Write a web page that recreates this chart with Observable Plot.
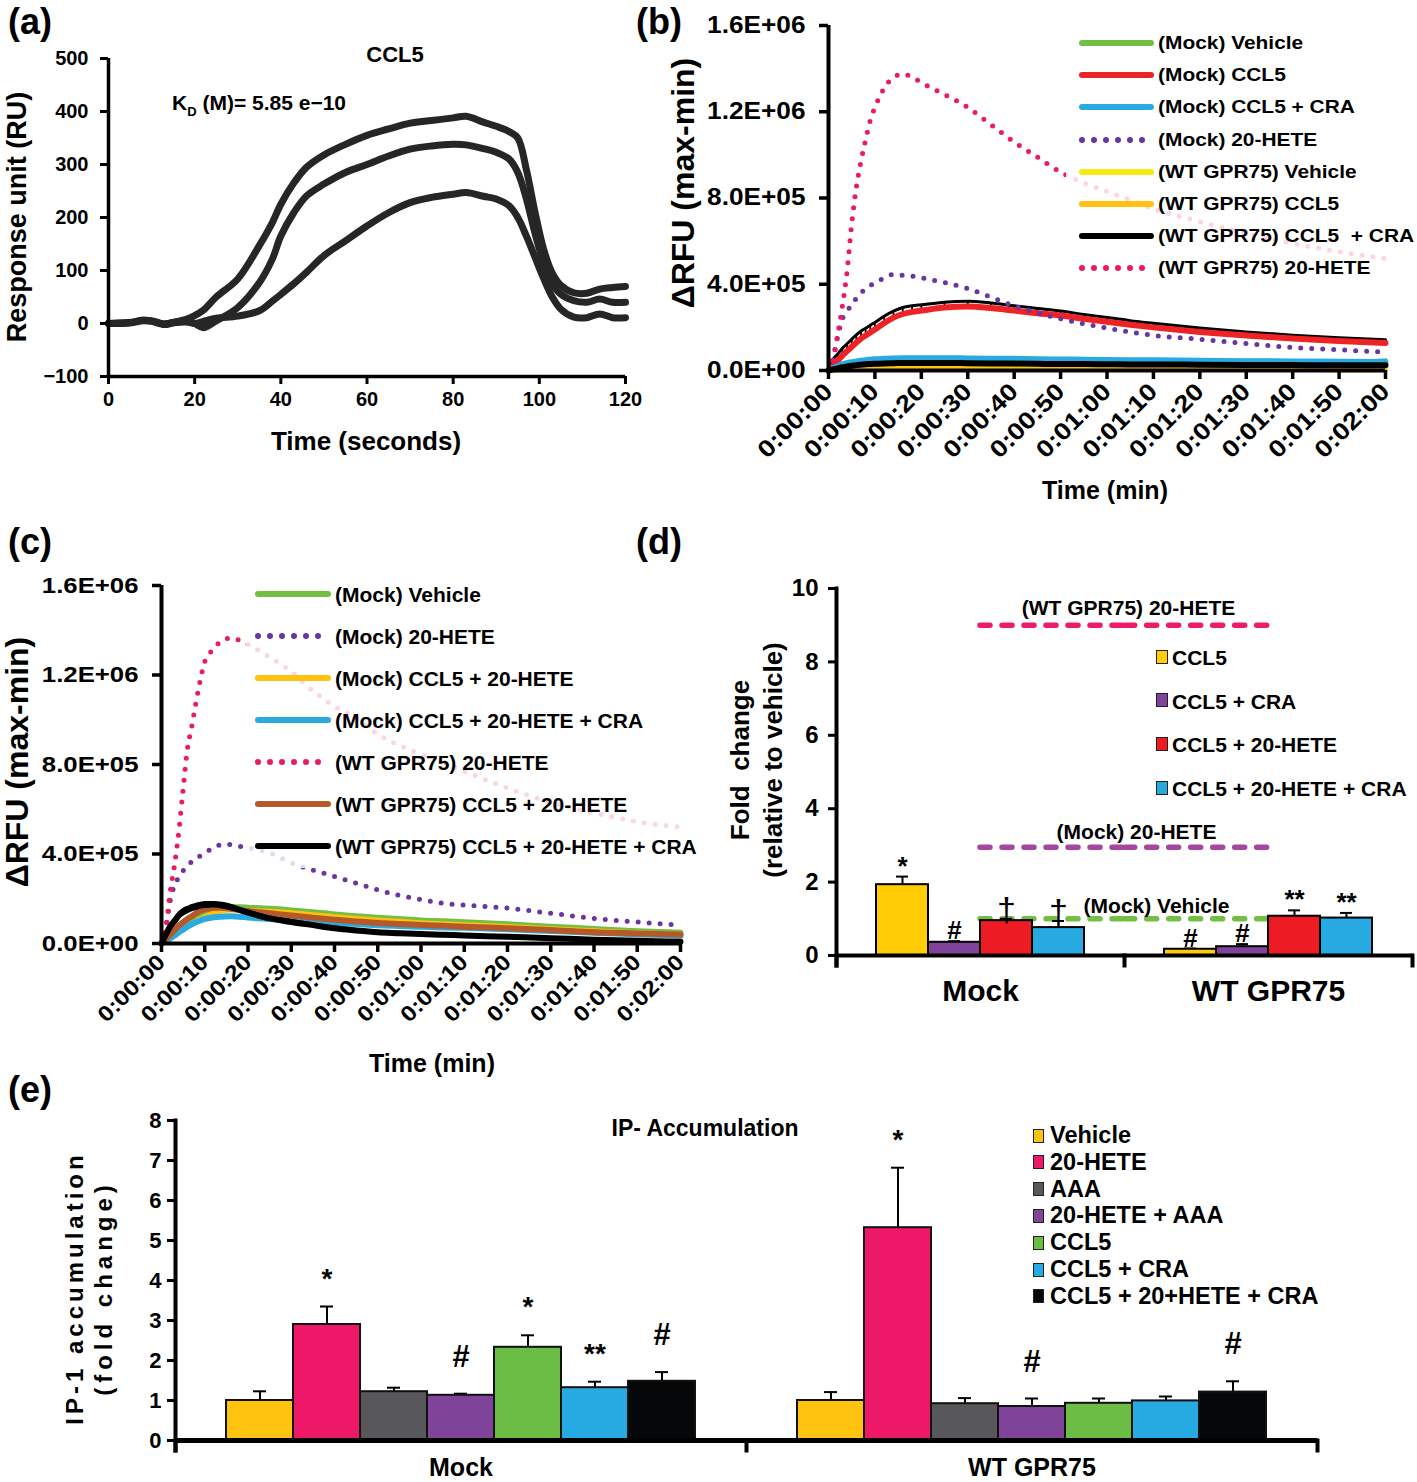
<!DOCTYPE html>
<html><head><meta charset="utf-8">
<script src="https://cdn.jsdelivr.net/npm/d3@7"></script>
<script src="https://cdn.jsdelivr.net/npm/@observablehq/plot@0.6"></script>
<style>
body{margin:0;background:#fff;}
#fig{position:relative;width:1417px;height:1482px;overflow:hidden;font-family:"Liberation Sans",Arial,Helvetica,sans-serif;font-weight:bold;color:#000;background:#fff;}
.panel{position:absolute;}
.lbl{position:absolute;white-space:pre;line-height:1;}
.box{position:absolute;background:rgba(255,255,255,0.82);}
</style></head><body><div id="fig"></div>
<script>
// ---------------- DATA ----------------
// (a) SPR sensorgram, CCL5
const timeA = [0,5,8,10,13,15,18,20,22,25,30,35,38,40,43,46,50,55,60,65,70,75,80,83,87,90,93,95,97,99,101,103,105,108,111,114,117,120];
const sprHigh = [0,2,6,5,-1,2,8,15,25,50,84,147,190,225,265,295,318,338,355,367,378,383,388,391,380,372,362,350,290,210,140,95,72,58,57,65,68,70];
const sprMid  = [0,2,6,5,-1,2,5,0,-8,5,30,77,121,165,209,241,263,285,300,316,329,335,338,337,330,323,310,285,235,170,115,75,55,43,40,46,40,40];
const sprLow  = [0,1,5,4,-2,1,3,0,4,10,14,24,42,55,75,97,128,156,184,209,228,238,244,247,240,235,222,200,165,125,85,50,27,12,11,18,11,11];
const ticksAx = [0,20,40,60,80,100,120];
const ticksAy = [-100,0,100,200,300,400,500];

// (b) calcium flux, values in units of 1E+05
const timeB = [0,1,2,3,4,5,6,7,8,9,10,12,14,16,18,20,25,30,35,40,45,50,55,60,65,70,80,90,100,110,120];
const seriesB = ["(Mock) Vehicle","(Mock) CCL5","(Mock) CCL5 + CRA","(Mock) 20-HETE","(WT GPR75) Vehicle","(WT GPR75) CCL5","(WT GPR75) CCL5  + CRA","(WT GPR75) 20-HETE"];
const mockVehicleB = [0,0.05,0.1,0.14,0.17,0.2,0.22,0.23,0.24,0.25,0.26,0.27,0.28,0.28,0.28,0.28,0.28,0.28,0.28,0.28,0.28,0.28,0.28,0.28,0.28,0.28,0.28,0.29,0.3,0.33,0.45];
const mockCCL5B = [0,0.22,0.45,0.7,0.9,1.1,1.3,1.48,1.62,1.76,1.9,2.2,2.45,2.62,2.72,2.78,2.92,2.97,2.9,2.78,2.66,2.55,2.4,2.26,2.12,2.0,1.79,1.62,1.48,1.37,1.28];
const mockCCL5ErrB = [0,0.3,0.32,0.33,0.34,0.35,0.35,0.35,0.34,0.34,0.33,0.32,0.3,0.3,0.28,0.27,0.25,0.24,0.23,0.22,0.22,0.21,0.2,0.2,0.19,0.19,0.18,0.17,0.16,0.15,0.15];
const mockCCL5CRAB = [0,0.1,0.2,0.28,0.34,0.38,0.42,0.45,0.48,0.5,0.52,0.54,0.56,0.57,0.57,0.57,0.57,0.56,0.55,0.54,0.52,0.51,0.5,0.49,0.48,0.47,0.45,0.43,0.42,0.41,0.4];
const mock20HETEB = [0,0.6,1.6,2.4,2.75,3.05,3.35,3.6,3.8,3.95,4.05,4.3,4.45,4.42,4.38,4.3,4.08,3.8,3.4,3.0,2.68,2.4,2.17,1.97,1.78,1.63,1.45,1.25,1.07,0.96,0.85];
const wtVehicleB = [0,0.01,0.02,0.03,0.05,0.06,0.07,0.08,0.08,0.09,0.09,0.1,0.1,0.1,0.1,0.1,0.1,0.1,0.09,0.09,0.09,0.08,0.08,0.08,0.07,0.07,0.06,0.05,0.05,0.04,0.03];
const wtCCL5B = [0,0.02,0.04,0.06,0.08,0.1,0.11,0.12,0.13,0.13,0.14,0.14,0.15,0.15,0.15,0.15,0.14,0.14,0.13,0.13,0.12,0.12,0.11,0.11,0.1,0.1,0.09,0.08,0.07,0.06,0.05];
const wtCCL5CRAB = [0,0.05,0.1,0.15,0.19,0.22,0.25,0.27,0.29,0.3,0.31,0.33,0.34,0.35,0.35,0.35,0.35,0.34,0.33,0.32,0.31,0.3,0.3,0.29,0.28,0.28,0.27,0.26,0.25,0.24,0.24];
const wt20HETEB = [0,0.5,1.7,3.0,4.6,6.8,8.5,9.7,10.7,11.6,12.2,13.1,13.6,13.75,13.6,13.35,12.8,12.2,11.4,10.6,9.9,9.2,8.7,8.3,7.9,7.5,6.9,6.35,5.9,5.5,5.2];

// (c) values in units of 1E+05
const timeC = [0,1,2,3,4,5,6,7,8,9,10,12,14,16,18,20,25,30,35,40,45,50,55,60,65,70,80,90,100,110,120];
const seriesC = ["(Mock) Vehicle","(Mock) 20-HETE","(Mock) CCL5 + 20-HETE","(Mock) CCL5 + 20-HETE + CRA","(WT GPR75) 20-HETE","(WT GPR75) CCL5 + 20-HETE","(WT GPR75) CCL5 + 20-HETE + CRA"];
const mockVehicleC = [0,0.15,0.3,0.45,0.6,0.75,0.9,1.05,1.18,1.3,1.4,1.53,1.6,1.62,1.62,1.6,1.55,1.48,1.4,1.3,1.22,1.15,1.09,1.03,0.99,0.95,0.86,0.75,0.65,0.55,0.48];
const mock20HETEC = [0,0.7,1.9,2.6,2.95,3.25,3.5,3.65,3.8,3.92,4.05,4.28,4.42,4.42,4.35,4.28,4.05,3.6,3.28,3.0,2.7,2.4,2.15,1.97,1.8,1.72,1.58,1.35,1.12,0.96,0.82];
const mockCCL5HETEC = [0,0.12,0.25,0.38,0.5,0.62,0.74,0.86,0.98,1.1,1.2,1.35,1.45,1.5,1.5,1.48,1.44,1.38,1.28,1.2,1.12,1.05,0.99,0.93,0.88,0.84,0.76,0.66,0.57,0.48,0.42];
const mockCCL5HETECRAC = [0,0.1,0.22,0.35,0.5,0.62,0.75,0.86,0.95,1.03,1.1,1.17,1.2,1.22,1.2,1.16,1.1,1.04,0.98,0.92,0.87,0.82,0.78,0.75,0.72,0.7,0.64,0.56,0.48,0.41,0.35];
const wt20HETEC = [0,0.7,2.3,3.5,5.0,6.9,8.7,9.7,10.8,11.8,12.6,13.15,13.55,13.65,13.55,13.36,12.8,12.15,11.3,10.6,10.05,9.35,8.85,8.45,8.1,7.7,6.95,6.3,5.84,5.45,5.2];
const wtCCL5HETEC = [0,0.2,0.4,0.6,0.8,0.95,1.1,1.22,1.35,1.45,1.52,1.6,1.6,1.55,1.5,1.45,1.35,1.25,1.15,1.06,0.98,0.92,0.87,0.83,0.79,0.75,0.68,0.6,0.5,0.45,0.4];
const wtCCL5HETECRAC = [0,0.4,0.75,1.0,1.25,1.4,1.5,1.58,1.64,1.69,1.72,1.74,1.7,1.62,1.5,1.38,1.12,0.96,0.82,0.68,0.58,0.5,0.46,0.42,0.39,0.36,0.3,0.24,0.17,0.12,0.08];
const wtCCL5HETECRAErrC = [0,0.15,0.15,0.15,0.15,0.15,0.14,0.14,0.14,0.13,0.13,0.12,0.12,0.11,0.1,0.1,0.09,0.09,0.08,0.08,0.07,0.07,0.07,0.06,0.06,0.06,0.05,0.05,0.05,0.05,0.05];
const ticksTime = [0,10,20,30,40,50,60,70,80,90,100,110,120];
const ticksRFU = [0,4e5,8e5,1.2e6,1.6e6];

// (d) fold change relative to vehicle
const groupsD = ["Mock","WT GPR75"];
const treatD = ["CCL5","CCL5 + CRA","CCL5 + 20-HETE","CCL5 + 20-HETE + CRA"];
const mockD = [1.93,0.36,0.95,0.76];
const mockErrD = [0.22,0.03,0.05,0.18];
const mockNoteD = ["*","#","\u2020","\u2020"];
const wtD = [0.17,0.24,1.07,1.02];
const wtErrD = [0.02,0.07,0.16,0.14];
const wtNoteD = ["#","#","**","**"];
const refLabelsD = ["(WT GPR75) 20-HETE","(Mock) 20-HETE","(Mock) Vehicle"];
const refValuesD = [9.0,2.95,1.0];
const ticksD = [0,2,4,6,8,10];

// (e) IP-1 accumulation
const groupsE = ["Mock","WT GPR75"];
const treatE = ["Vehicle","20-HETE","AAA","20-HETE + AAA","CCL5","CCL5 + CRA","CCL5 + 20+HETE + CRA"];
const mockE = [1.0,2.9,1.22,1.13,2.33,1.32,1.48];
const mockErrE = [0.23,0.45,0.1,0.04,0.3,0.15,0.23];
const mockNoteE = ["","*","","#","*","**","#"];
const wtE = [1.0,5.32,0.92,0.85,0.93,0.99,1.21];
const wtErrE = [0.21,1.5,0.14,0.2,0.12,0.11,0.27];
const wtNoteE = ["","*","","#","","","#"];
const ticksE = [0,1,2,3,4,5,6,7,8];

// ---------------- STYLE ----------------
const FONT = '"Liberation Sans", Arial, Helvetica, sans-serif';
const C = {green:"#72bf44", red:"#ee2326", blue:"#29abe2", purple:"#6a35a0", yellow:"#f6ea16", orange:"#ffc20e", black:"#000000", pink:"#ec1a64", brown:"#b5592a"};
const colorsD = ["#ffcc05","#80439a","#ed1c24","#27aae1"];
const refColorsD = ["#ec1c6a","#a5479f","#72bf44"];
const colorsE = ["#ffc20e","#ed1968","#58585a","#80439a","#6cbd45","#27aae1","#050708"];
const baseStyle = {fontFamily: FONT, fontWeight: "bold", color: "black", background: "transparent", overflow: "visible", maxWidth: "none"};

const fig = document.getElementById("fig");
function addPlot(svg, left, top, k = 1) {
  const div = document.createElement("div");
  div.className = "panel"; div.style.left = left + "px"; div.style.top = top + "px";
  div.appendChild(svg); fig.appendChild(div);
  if (k !== 1) stretchText(svg, k);
}
function stretchText(svg, k) {
  svg.querySelectorAll("text").forEach(t => {
    const num = /^-?[\d.]+$/;
    const xa = t.getAttribute("x"), ya = t.getAttribute("y");
    let x = 0, y = 0;
    if (xa && num.test(xa)) { x = +xa; t.removeAttribute("x"); }
    if (ya && num.test(ya)) { y = +ya; t.removeAttribute("y"); }
    const tr = t.getAttribute("transform") || "";
    t.setAttribute("transform", `${tr} translate(${x},${y}) scale(${k},1)`);
  });
}
function txt(s, x, y, o = {}) {
  const {size = 20, anchor = "middle", rotate = false, k = 1, html = false, spacing = 0} = o;
  const el = document.createElement("div"); el.className = "lbl";
  if (html) el.innerHTML = s; else el.textContent = s;
  el.style.left = x + "px"; el.style.top = y + "px"; el.style.fontSize = size + "px";
  if (spacing) el.style.letterSpacing = spacing + "px";
  if (rotate) el.style.transform = `translate(-50%,-50%) rotate(-90deg) scaleY(${k})`;
  else if (anchor === "start") { el.style.transformOrigin = "left center"; el.style.transform = `translate(0,-50%) scaleX(${k})`; }
  else el.style.transform = `translate(-50%,-50%) scaleX(${k})`;
  fig.appendChild(el);
  return el;
}
function box(x, y, w, h) {
  const b = document.createElement("div"); b.className = "box";
  Object.assign(b.style, {left: x + "px", top: y + "px", width: w + "px", height: h + "px"});
  fig.appendChild(b);
}
function lineSwatch(x, y, w, color, dotted) {
  const ns = "http://www.w3.org/2000/svg";
  const s = document.createElementNS(ns, "svg");
  s.setAttribute("width", w); s.setAttribute("height", 10);
  Object.assign(s.style, {position: "absolute", left: x + "px", top: (y - 5) + "px", overflow: "visible"});
  const l = document.createElementNS(ns, "line");
  l.setAttribute("x1", 3); l.setAttribute("x2", w - 3); l.setAttribute("y1", 5); l.setAttribute("y2", 5);
  l.setAttribute("stroke", color); l.setAttribute("stroke-width", 6); l.setAttribute("stroke-linecap", "round");
  if (dotted) l.setAttribute("stroke-dasharray", "0 12");
  s.appendChild(l); fig.appendChild(s);
}
function squareSwatch(x, y, w, h, color) {
  const d = document.createElement("div");
  Object.assign(d.style, {position: "absolute", left: x + "px", top: (y - h / 2) + "px", width: (w - 3) + "px", height: (h - 3) + "px", background: color, border: "1.5px solid #222"});
  fig.appendChild(d);
}
const fmtE = d => { const [m, e] = d.toExponential(1).split("e"); const n = +e; return `${m}E${n < 0 ? "-" : "+"}${String(Math.abs(n)).padStart(2, "0")}`; };
const fmtT = d => `0:${String(Math.floor(d / 60)).padStart(2, "0")}:${String(d % 60).padStart(2, "0")}`;
const rowsOf = (times, vals, errs) => times.map((t, i) => ({t, v: vals[i] * 1e5, e: errs ? errs[i] * 1e5 : 0}));
const dotted = {strokeDasharray: "0 11", strokeLinecap: "round", strokeWidth: 5};

// ---------------- (a) ----------------
{
  const rows = [sprHigh, sprMid, sprLow].flatMap((arr, s) => timeA.map((t, i) => ({t, v: arr[i], s})));
  const p = Plot.plot({
    width: 650, height: 470, marginLeft: 108, marginRight: 25, marginTop: 58, marginBottom: 94,
    style: baseStyle,
    x: {domain: [0, 120]}, y: {domain: [-100, 500]},
    marks: [
      Plot.line(rows, {x: "t", y: "v", z: "s", stroke: "#262626", strokeWidth: 7, curve: "catmull-rom"}),
      Plot.ruleX([0], {strokeWidth: 3.5}),
      Plot.ruleY([-100], {strokeWidth: 3.5}),
      Plot.axisY({ticks: ticksAy, tickSize: 8, tickPadding: 12, strokeWidth: 3, fontSize: 20, label: null}),
      Plot.axisX({ticks: ticksAx, tickSize: 8, tickPadding: 7, strokeWidth: 3, fontSize: 20, label: null})
    ]
  });
  addPlot(p, 0, 0);
  txt("CCL5", 395, 55, {size: 22});
  txt("K<sub style='font-size:0.62em'>D</sub> (M)= 5.85 e\u221210", 172, 105, {size: 21, anchor: "start", html: true});
  txt("Response unit (RU)", 17, 217, {size: 27, rotate: true});
  txt("Time (seconds)", 366, 441, {size: 26});
  txt("(a)", 8, 22, {size: 36, anchor: "start"});
}

// ---------------- (b) ----------------
{
  const S = seriesB;
  const vB = rowsOf(timeB, mockVehicleB), rB = rowsOf(timeB, mockCCL5B, mockCCL5ErrB), bB = rowsOf(timeB, mockCCL5CRAB),
        pB = rowsOf(timeB, mock20HETEB), yB = rowsOf(timeB, wtVehicleB), oB = rowsOf(timeB, wtCCL5B),
        kB = rowsOf(timeB, wtCCL5CRAB), hB = rowsOf(timeB, wt20HETEB);
  const cur = "monotone-x";
  const p = Plot.plot({
    width: 777, height: 510, marginLeft: 188, marginRight: 32, marginTop: 25, marginBottom: 140,
    style: baseStyle,
    x: {domain: [0, 120]}, y: {domain: [0, 1.6e6]},
    marks: [
      Plot.line(vB, {x: "t", y: "v", stroke: C.green, strokeWidth: 5, curve: cur}),
      Plot.ruleX(rB, {x: "t", y1: "v", y2: d => d.v + d.e, stroke: "black", strokeWidth: 1.8}),
      Plot.line(rB, {x: "t", y: d => d.v + d.e, stroke: "black", strokeWidth: 3, curve: cur}),
      Plot.line(rB, {x: "t", y: "v", stroke: C.red, strokeWidth: 6, curve: cur}),
      Plot.line(bB, {x: "t", y: "v", stroke: C.blue, strokeWidth: 6, curve: cur}),
      Plot.line(pB, {x: "t", y: "v", stroke: C.purple, curve: cur, ...dotted}),
      Plot.line(yB, {x: "t", y: "v", stroke: C.yellow, strokeWidth: 5, curve: cur}),
      Plot.line(oB, {x: "t", y: "v", stroke: C.orange, strokeWidth: 4, curve: cur}),
      Plot.line(kB, {x: "t", y: "v", stroke: C.black, strokeWidth: 6, curve: cur}),
      Plot.line(hB, {x: "t", y: "v", stroke: C.pink, curve: cur, ...dotted}),
      Plot.ruleX([0], {strokeWidth: 4}),
      Plot.ruleY([0], {strokeWidth: 4}),
      Plot.axisY({ticks: ticksRFU, tickFormat: fmtE, tickSize: 9, tickPadding: 14, strokeWidth: 3.5, fontSize: 23, label: null}),
      Plot.axisX({ticks: ticksTime, tickFormat: fmtT, tickRotate: -45, tickSize: 9, tickPadding: 8, strokeWidth: 3.5, fontSize: 24, label: null})
    ]
  });
  addPlot(p, 640, 0, 1.14);
  box(1066, 24, 351, 260);
  const colors = [C.green, C.red, C.blue, C.purple, C.yellow, C.orange, C.black, C.pink];
  const dots = [false, false, false, true, false, false, false, true];
  S.forEach((s, i) => {
    const y = 43 + i * 32.2;
    lineSwatch(1079, y, 75, colors[i], dots[i]);
    txt(s, 1158, y, {size: 18.5, anchor: "start", k: 1.13});
  });
  txt("\u0394RFU (max-min)", 683, 183, {size: 32, rotate: true});
  txt("Time (min)", 1105, 490, {size: 25});
  txt("(b)", 636, 22, {size: 36, anchor: "start"});
}

// ---------------- (c) ----------------
{
  const S = seriesC;
  const g = rowsOf(timeC, mockVehicleC), pu = rowsOf(timeC, mock20HETEC), o = rowsOf(timeC, mockCCL5HETEC),
        b = rowsOf(timeC, mockCCL5HETECRAC), pk = rowsOf(timeC, wt20HETEC), br = rowsOf(timeC, wtCCL5HETEC),
        k = rowsOf(timeC, wtCCL5HETECRAC, wtCCL5HETECRAErrC);
  const cur = "monotone-x";
  const p = Plot.plot({
    width: 720, height: 560, marginLeft: 161, marginRight: 40, marginTop: 65, marginBottom: 137,
    style: baseStyle,
    x: {domain: [0, 120]}, y: {domain: [0, 1.6e6]},
    marks: [
      Plot.line(g, {x: "t", y: "v", stroke: C.green, strokeWidth: 6, curve: cur}),
      Plot.line(pu, {x: "t", y: "v", stroke: C.purple, curve: cur, ...dotted}),
      Plot.line(o, {x: "t", y: "v", stroke: C.orange, strokeWidth: 5, curve: cur}),
      Plot.line(b, {x: "t", y: "v", stroke: C.blue, strokeWidth: 6, curve: cur}),
      Plot.line(pk, {x: "t", y: "v", stroke: C.pink, curve: cur, ...dotted}),
      Plot.line(br, {x: "t", y: "v", stroke: C.brown, strokeWidth: 6, curve: cur}),
      Plot.ruleX(k, {x: "t", y1: "v", y2: d => d.v + d.e, stroke: "black", strokeWidth: 1.8}),
      Plot.line(k, {x: "t", y: d => d.v + d.e, stroke: "black", strokeWidth: 2, curve: cur}),
      Plot.line(k, {x: "t", y: "v", stroke: C.black, strokeWidth: 6, curve: cur}),
      Plot.ruleX([0], {strokeWidth: 4}),
      Plot.ruleY([0], {strokeWidth: 4}),
      Plot.axisY({ticks: ticksRFU, tickFormat: fmtE, tickSize: 9, tickPadding: 14, strokeWidth: 3.5, fontSize: 23, label: null}),
      Plot.axisX({ticks: ticksTime, tickFormat: fmtT, tickRotate: -45, tickSize: 9, tickPadding: 6, strokeWidth: 3.5, fontSize: 22, label: null})
    ]
  });
  addPlot(p, 0, 520, 1.12);
  box(246, 572, 460, 296);
  const colors = [C.green, C.purple, C.orange, C.blue, C.pink, C.brown, C.black];
  const dots = [false, true, false, false, true, false, false];
  S.forEach((s, i) => {
    const y = 594 + i * 42;
    lineSwatch(255, y, 76, colors[i], dots[i]);
    txt(s, 335, y, {size: 21, anchor: "start"});
  });
  txt("\u0394RFU (max-min)", 17, 762, {size: 32, rotate: true});
  txt("Time (min)", 432, 1063, {size: 25});
  txt("(c)", 8, 542, {size: 36, anchor: "start"});
}

// ---------------- (d) ----------------
{
  const rows = groupsD.flatMap((g, gi) => treatD.map((t, i) => ({
    group: g, treat: t, color: colorsD[i],
    v: (gi === 0 ? mockD : wtD)[i], e: (gi === 0 ? mockErrD : wtErrD)[i], note: (gi === 0 ? mockNoteD : wtNoteD)[i]
  })));
  const refs = refLabelsD.map((label, i) => ({label, value: refValuesD[i], color: refColorsD[i]}));
  const W = 717, H0 = 500, mL = 135, mR = 5, mT = 68, mB = 65, padOuter = 0.75;
  const H = H0 - mT - mB;
  const facetW = (W - mL - mR) / groupsD.length;
  const outer = padOuter * facetW / (treatD.length + 2 * padOuter);
  const dash = {strokeWidth: 5.5, strokeDasharray: "10 12", strokeLinecap: "round"};
  const p = Plot.plot({
    width: W, height: H0, marginLeft: mL, marginRight: mR, marginTop: mT, marginBottom: mB,
    style: baseStyle,
    fx: {domain: groupsD, padding: 0},
    x: {domain: treatD, paddingInner: 0, paddingOuter: padOuter, axis: null},
    y: {domain: [0, 10]},
    color: {type: "identity"},
    marks: [
      Plot.ruleY(refs, {fx: () => "Mock", y: "value", x1: () => "CCL5 + 20-HETE", x2: () => "CCL5 + 20-HETE + CRA", insetRight: -outer, stroke: "color", ...dash}),
      Plot.ruleY(refs, {fx: () => "WT GPR75", y: "value", x1: () => "CCL5", x2: () => "CCL5 + CRA", insetLeft: -outer, stroke: "color", ...dash}),
      Plot.ruleX(rows, {fx: "group", x: "treat", y1: "v", y2: d => d.v + d.e, strokeWidth: 2}),
      Plot.tickY(rows, {fx: "group", x: "treat", y: d => d.v + d.e, strokeWidth: 2, insetLeft: 20, insetRight: 20}),
      Plot.barY(rows, {fx: "group", x: "treat", y: "v", fill: "color", stroke: "black", strokeWidth: 2}),
      Plot.text(rows, {filter: d => d.note !== "\u2020", fx: "group", x: "treat", y: d => d.v + d.e, text: "note", lineAnchor: "bottom", dy: -2, fontSize: 26}),
      Plot.text(rows, {filter: d => d.note === "\u2020", fx: "group", x: "treat", y: d => d.v + d.e, text: "note", lineAnchor: "bottom", dy: 2, fontSize: 34, fontWeight: "normal"}),
      Plot.text(refs.slice(0, 1), {fx: () => "WT GPR75", x: () => "CCL5", y: "value", text: "label", dx: -62, dy: -17, fontSize: 21}),
      Plot.text(refs.slice(1, 2), {fx: () => "WT GPR75", x: () => "CCL5", y: "value", text: "label", dx: -54, dy: -15, fontSize: 21}),
      Plot.text(refs.slice(2, 3), {fx: () => "WT GPR75", x: () => "CCL5", y: "value", text: "label", dx: -34, dy: -13, fontSize: 21}),
      Plot.ruleY([0], {strokeWidth: 4}),
      Plot.frame({anchor: "left", facetAnchor: "left", strokeWidth: 4, insetBottom: -10}),
      Plot.frame({anchor: "left", strokeWidth: 4, insetTop: H, insetBottom: -10}),
      Plot.frame({anchor: "right", facetAnchor: "right", strokeWidth: 4, insetTop: H, insetBottom: -10}),
      Plot.axisY({ticks: ticksD, tickSize: 8, tickPadding: 10, strokeWidth: 3, fontSize: 24, label: null}),
      Plot.axisFx({anchor: "bottom", tickSize: 0, tickPadding: 24, fontSize: 30, label: null})
    ]
  });
  addPlot(p, 700, 520);
  treatD.forEach((t, i) => {
    const y = 657 + i * 43.7;
    squareSwatch(1156, y, 13, 15, colorsD[i]);
    txt(t, 1172, y, {size: 21, anchor: "start"});
  });
  txt("Fold  change", 740, 760, {size: 26, rotate: true});
  txt("(relative to vehicle)", 773, 760, {size: 26, rotate: true});
  txt("(d)", 636, 542, {size: 36, anchor: "start"});
}

// ---------------- (e) ----------------
{
  const rows = groupsE.flatMap((g, gi) => treatE.map((t, i) => ({
    group: g, treat: t, color: colorsE[i],
    v: (gi === 0 ? mockE : wtE)[i], e: (gi === 0 ? mockErrE : wtErrE)[i], note: (gi === 0 ? mockNoteE : wtNoteE)[i]
  })));
  const H = 392 - 30 - 42;
  const p = Plot.plot({
    width: 1417, height: 392, marginLeft: 175, marginRight: 100, marginTop: 30, marginBottom: 42,
    style: baseStyle,
    fx: {domain: groupsE, padding: 0},
    x: {domain: treatE, paddingInner: 0, paddingOuter: 0.744, axis: null},
    y: {domain: [0, 8]},
    color: {type: "identity"},
    marks: [
      Plot.ruleX(rows, {fx: "group", x: "treat", y1: "v", y2: d => d.v + d.e, strokeWidth: 2}),
      Plot.tickY(rows, {fx: "group", x: "treat", y: d => d.v + d.e, strokeWidth: 2, insetLeft: 27, insetRight: 27}),
      Plot.barY(rows, {fx: "group", x: "treat", y: "v", fill: "color", stroke: "#111", strokeWidth: 2}),
      Plot.text(rows, {filter: d => d.note === "#", fx: "group", x: "treat", y: d => d.v + d.e, text: "note", lineAnchor: "bottom", dy: -27, fontSize: 31}),
      Plot.text(rows, {filter: d => d.note !== "#", fx: "group", x: "treat", y: d => d.v + d.e, text: "note", lineAnchor: "bottom", dy: -19, fontSize: 28}),
      Plot.ruleY([0], {strokeWidth: 5}),
      Plot.frame({anchor: "left", facetAnchor: "left", strokeWidth: 4, insetBottom: -10}),
      Plot.frame({anchor: "left", strokeWidth: 4, insetTop: H, insetBottom: -10}),
      Plot.frame({anchor: "right", facetAnchor: "right", strokeWidth: 4, insetTop: H, insetBottom: -10}),
      Plot.axisY({ticks: ticksE, tickSize: 8, tickPadding: 6, strokeWidth: 3, fontSize: 22, label: null}),
      Plot.axisFx({anchor: "bottom", tickSize: 0, tickPadding: 18, fontSize: 25, label: null})
    ]
  });
  addPlot(p, 0, 1090);
  treatE.forEach((t, i) => {
    const y = 1136 + i * 26.8;
    squareSwatch(1033, y, 12, 15, colorsE[i]);
    txt(t, 1050, y, {size: 23.5, anchor: "start"});
  });
  txt("IP- Accumulation", 705, 1128, {size: 23});
  txt("IP-1 accumulation", 75, 1288, {size: 24, rotate: true, spacing: 4});
  txt("(fold change)", 104, 1288, {size: 24, rotate: true, spacing: 5});
  txt("(e)", 8, 1090, {size: 36, anchor: "start"});
}
</script></body></html>
